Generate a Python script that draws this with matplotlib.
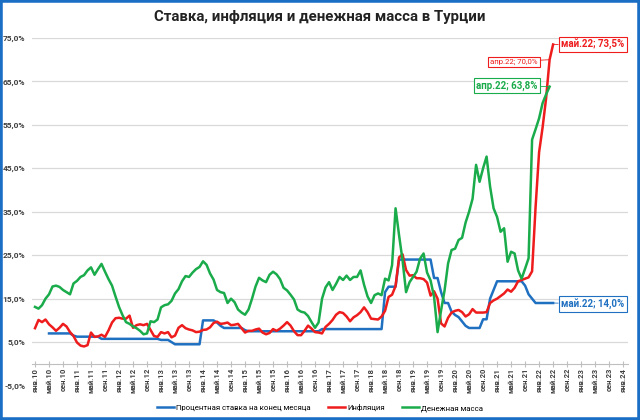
import numpy as np
import matplotlib
matplotlib.use("Agg")
import matplotlib.pyplot as plt
from matplotlib.patches import Rectangle

plt.rcParams['font.family'] = ['Roboto', 'DejaVu Sans']

# monthly data, Jan 2010 .. May 2022
nan = np.nan
rate = [nan, nan, nan, nan, 7, 7, 7, 7, 7, 7, 7, 6.5,
        6.25, 6.25, 6.25, 6.25, 6.25, 6.25, 6.25, 5.75, 5.75, 5.75, 5.75, 5.75,
        5.75, 5.75, 5.75, 5.75, 5.75, 5.75, 5.75, 5.75, 5.75, 5.75, 5.75, 5.75,
        5.5, 5.5, 5.5, 5.0, 4.5, 4.5, 4.5, 4.5, 4.5, 4.5, 4.5, 4.5,
        10, 10, 10, 10, 9.5, 8.75, 8.25, 8.25, 8.25, 8.25, 8.25, 8.25,
        7.75, 7.5, 7.5, 7.5, 7.5, 7.5, 7.5, 7.5, 7.5, 7.5, 7.5, 7.5,
        7.5, 7.5, 7.5, 7.5, 7.5, 7.5, 7.5, 7.5, 7.5, 7.5, 8, 8,
        8, 8, 8, 8, 8, 8, 8, 8, 8, 8, 8, 8,
        8, 8, 8, 8, 16.5, 17.75, 17.75, 17.75, 24, 24, 24, 24,
        24, 24, 24, 24, 24, 24, 19.75, 19.75, 16.5, 14, 14, 12,
        11.25, 10.75, 9.75, 8.75, 8.25, 8.25, 8.25, 8.25, 10.25, 10.25, 15, 17,
        19, 19, 19, 19, 19, 19, 19, 19, 18, 16, 15, 14,
        14, 14, 14, 14, 14]

inflation = [8.2, 10.1, 9.6, 10.2, 9.1, 8.4, 7.6, 8.3, 9.2, 8.6, 7.3, 6.4,
             4.9, 4.2, 4.0, 4.3, 7.2, 6.2, 6.3, 6.7, 6.2, 7.7, 9.5, 10.5,
             10.6, 10.4, 10.4, 11.1, 8.3, 8.9, 9.1, 8.9, 9.2, 7.8, 6.4, 6.2,
             7.3, 7.0, 7.3, 6.1, 6.5, 8.3, 8.9, 8.2, 7.9, 7.7, 7.3, 7.4,
             7.8, 7.9, 8.4, 9.4, 9.7, 9.2, 9.3, 9.5, 8.9, 9.0, 9.2, 8.2,
             7.2, 7.6, 7.6, 7.9, 8.1, 7.2, 6.8, 7.1, 8.0, 7.6, 8.1, 8.8,
             9.6, 8.8, 7.5, 6.6, 6.6, 7.6, 8.8, 8.1, 7.3, 7.2, 7.0, 8.5,
             9.2, 10.1, 11.3, 11.9, 11.7, 10.9, 9.8, 10.7, 11.2, 11.9, 13.0, 11.9,
             10.4, 10.3, 10.2, 10.9, 12.2, 15.4, 15.9, 17.9, 24.5, 25.2, 21.6, 20.3,
             20.4, 19.7, 19.7, 19.5, 18.7, 15.7, 16.7, 15.0, 9.3, 8.6, 10.6, 11.8,
             12.2, 12.4, 11.9, 10.9, 11.4, 12.6, 11.8, 11.8, 11.8, 11.9, 14.0, 14.6,
             15.0, 15.6, 16.2, 17.1, 16.6, 17.5, 19.0, 19.3, 19.6, 19.9, 21.3, 36.1,
             48.7, 54.4, 61.1, 70.0, 73.5]

money = [13.1, 12.7, 13.5, 15.0, 16.0, 17.8, 18.0, 17.7, 17.0, 16.5, 16.0, 18.5,
         19.1, 20.0, 20.4, 21.5, 22.2, 20.5, 21.8, 23.0, 21.2, 19.5, 18.0, 15.5,
         13.1, 11.2, 9.6, 9.2, 8.6, 8.2, 7.6, 6.8, 7.0, 9.8, 9.6, 10.2,
         13.0, 13.5, 13.7, 14.5, 16.2, 17.2, 19.0, 20.2, 20.0, 21.0, 21.8, 22.3,
         23.6, 22.8, 20.8, 19.4, 17.0, 16.5, 16.3, 14.0, 15.0, 14.2, 12.5, 11.8,
         11.3, 12.5, 15.0, 17.8, 19.8, 19.2, 18.8, 20.5, 21.2, 20.6, 19.5, 17.5,
         16.9, 15.9, 14.8, 12.5, 12.0, 11.8, 11.0, 9.6, 8.3, 9.5, 15.0, 17.6,
         18.8, 17.0, 18.4, 20.0, 19.3, 20.3, 19.3, 20.0, 20.0, 21.5, 18.2, 15.5,
         14.0, 15.8, 16.2, 15.8, 19.6, 19.2, 22.7, 35.8, 29.6, 23.8, 16.5, 18.8,
         20.0, 21.2, 24.2, 25.4, 21.0, 19.2, 15.4, 7.3, 12.3, 16.9, 23.1, 26.2,
         26.5, 28.5, 29.0, 32.5, 35.0, 38.0, 45.8, 41.9, 45.0, 47.7, 40.8, 35.8,
         33.8, 30.4, 31.2, 23.5, 25.8, 25.4, 21.5, 19.6, 21.9, 24.3, 51.6, 54.0,
         56.5, 60.0, 62.0, 63.8, nan]

month_names = ['янв', 'май', 'сен']
tick_labels = ['%s.%02d' % (month_names[i % 3], 10 + i // 3) for i in range(43)]

BLUE = '#1f70c1'
RED = '#ee1c1c'
GREEN = '#1aab4b'

x = np.arange(len(inflation))

fig = plt.figure(figsize=(6.4, 4.2), dpi=100)
ax = fig.add_axes([0.05, 0.082, 0.93125, 0.8276])

# spine position first: it resets the tick labels
for s in ['left', 'right', 'top']:
    ax.spines[s].set_visible(False)
ax.spines['bottom'].set_position(('data', 0))
ax.spines['bottom'].set_color('#bfbfbf')

for v in range(5, 80, 10):
    ax.axhline(v, color='#d9d9d9', lw=0.9, zorder=0)

ax.plot(x, rate, color=BLUE, lw=1.8, label='Процентная ставка на конец месяца')
ax.plot(x, inflation, color=RED, lw=1.8, label='Инфляция')
ax.plot(x, money, color=GREEN, lw=1.8, label='Денежная масса')

ax.set_xlim(-0.86, 169.4)
ax.set_ylim(-5, 75)
ax.set_yticks(range(-5, 80, 10))
ax.set_yticklabels(['%d,0%%' % v for v in range(-5, 80, 10)])
ax.set_xticks(np.arange(0, 169, 4))
ax.set_xticklabels(tick_labels)
ax.tick_params(axis='y', length=0, pad=5, labelsize=6, labelcolor='#404040')
ax.tick_params(axis='x', direction='inout', length=4, color='#bfbfbf', pad=1,
               labelrotation=90, labelsize=5.5, labelcolor='#404040')
for t in ax.get_xticklabels() + ax.get_yticklabels():
    t.set_fontweight('bold')

# callouts
def callout(i, vals, text, color, dx, dy, ha, bold=True, size=7):
    ax.annotate(text, xy=(i, vals[i]), xytext=(dx, dy), textcoords='offset pixels',
                ha=ha, va='center', fontsize=size, color=color,
                fontweight='bold' if bold else 'normal',
                bbox=dict(boxstyle='square,pad=0.25', fc='white', ec=color, lw=0.8),
                arrowprops=dict(arrowstyle='-', color=color, lw=0.6,
                                shrinkA=0, shrinkB=0))

callout(148, inflation, 'май.22; 73,5%', RED, 8, 0, 'left')
callout(147, inflation, 'апр.22; 70,0%', RED, -12, -2, 'right', bold=False, size=5.6)
callout(147, money, 'апр.22; 63,8%', GREEN, -12, 1, 'right')
callout(148, rate, 'май.22; 14,0%', BLUE, 8, -1, 'left')

fig.suptitle('Ставка, инфляция и денежная масса в Турции', y=0.975,
             fontsize=10.8, fontweight='bold', color='#222222')

fig.legend(loc='center', bbox_to_anchor=(0.5, 0.029), ncol=3, frameon=False,
           fontsize=5.6, handlelength=2.2, columnspacing=2.2, handletextpad=0.3)

fig.patches.append(Rectangle((0, 0), 1, 1, transform=fig.transFigure,
                             fill=False, ec='#1a6fc4', lw=4))

fig.savefig('out.png', dpi=100)
